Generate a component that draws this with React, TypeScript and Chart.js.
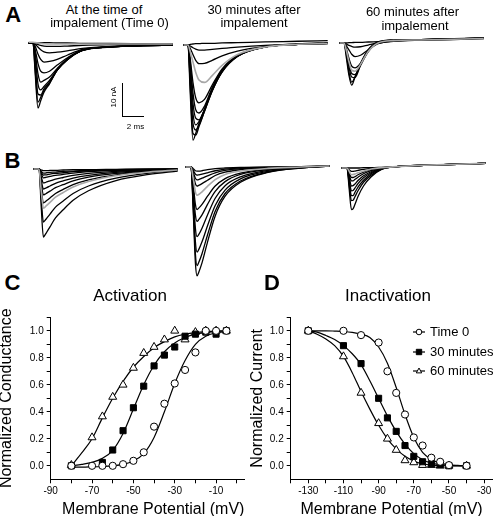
import React, { useEffect, useRef } from 'react';
import { Chart, registerables } from 'chart.js';

Chart.register(...registerables);

const FONT = '"Liberation Sans", Arial, Helvetica, sans-serif';
Chart.defaults.font.family = FONT;
Chart.defaults.color = '#000';

// ---------- Panels A / B : current traces (time in ms, current in nA) ----------
const T_A = [-0.4, 0, 0.2, 0.45, 0.7, 1.0, 1.5, 2.2, 3.1, 4.5, 7, 10, 12.7];
const T_B = [-0.5, 0, 0.2, 0.4, 0.55, 0.7, 1.0, 1.5, 2.2, 3.1, 4.5, 7, 10, 12.6];

const A1_BLACK = [
  [0, 0, -9, -19.1, -17, -14.5, -12, -8, -5, -2.2, -1.2, -0.8, -0.6],
  [0, 0, -8, -17.4, -16, -14, -11.8, -8, -5, -2.2, -1.2, -0.8, -0.6],
  [0, 0, -6, -15, -15.3, -13.5, -11.5, -8, -5, -2.2, -1.2, -0.8, -0.6],
  [0, 0, -4, -12, -13.8, -12.8, -11, -7.8, -4.8, -2.2, -1.2, -0.8, -0.6],
  [0, 0, -3, -9, -11.5, -11, -10, -7.5, -4.7, -2.1, -1.2, -0.8, -0.6],
  [0, 0, -2, -6, -8.3, -8.8, -8.3, -6.5, -4.4, -2, -1.2, -0.8, -0.6],
  [0, 0, -1, -3.2, -4.8, -5.6, -5.4, -4.8, -3.6, -1.9, -1.1, -0.8, -0.6],
  [0, 0, -0.4, -1.2, -2, -2.6, -2.9, -2.7, -2.3, -1.6, -1, -0.7, -0.5],
  [0, 0, -0.2, -0.5, -0.7, -0.9, -1, -1, -0.9, -0.7, -0.5, -0.4, -0.3],
  [0, 0, 0, 0, 0.1, 0.1, 0.1, 0, 0, -0.1, -0.1, -0.2, -0.3],
];
const A1_GRAY = [[0.2, 0.2, 0.1, 0, -0.1, -0.2, -0.3, -0.3, -0.3, -0.3, -0.3, -0.3, -0.3]];

const A2_BLACK = [
  [0, 0, -14, -28, -26, -23, -19, -13, -7.5, -3.2, -0.5, 0.3, 0.6],
  [0, 0, -12, -26, -26.5, -24, -19.5, -13.5, -7.8, -3.3, -0.5, 0.3, 0.6],
  [0, 0, -10, -23, -25, -23.5, -19.5, -13.5, -8, -3.4, -0.6, 0.2, 0.5],
  [0, 0, -8, -20, -23.5, -22.5, -19, -13.3, -7.8, -3.3, -0.6, 0.2, 0.5],
  [0, 0, -6, -17, -21.5, -22, -19, -13, -7.5, -3.2, -0.6, 0.2, 0.5],
  [0, 0, -5, -14, -19, -20, -18, -12.5, -7.3, -3.1, -0.6, 0.2, 0.5],
  [0, 0, -4, -11, -15.5, -17, -16, -11.8, -7, -3, -0.6, 0.2, 0.5],
  [0, 0, -1, -2.8, -4.5, -5.5, -5.4, -4.5, -3.2, -1.8, -0.5, 0.2, 0.4],
  [0, 0, -0.3, -0.8, -1.2, -1.5, -1.5, -1.3, -1, -0.6, -0.1, 0.2, 0.4],
  [0, 0, 0.2, 0.3, 0.4, 0.4, 0.5, 0.5, 0.6, 0.7, 0.9, 1.1, 1.3],
];
const A2_GRAY = [[0, 0, -2, -5, -8, -10.3, -11, -9, -6, -2.8, -0.6, 0.2, 0.4]];

const A3_BLACK = [
  [0, 0, -4, -9.5, -12.4, -10, -6, -2, 0.3, 0.9, 1.0, 1.3, 1.5],
  [0, 0, -3, -8.5, -11.5, -10, -6.2, -2.1, 0.2, 0.8, 1.0, 1.2, 1.4],
  [0, 0, -2.5, -7, -10, -10.2, -6.5, -2.3, 0.1, 0.8, 1.0, 1.2, 1.4],
  [0, 0, -2, -6, -9, -9.3, -6.6, -2.5, 0, 0.7, 1.0, 1.2, 1.4],
  [0, 0, -1.5, -4.5, -6.8, -7.3, -6, -2.5, 0, 0.7, 1.0, 1.2, 1.4],
  [0, 0, -0.8, -2, -3.3, -4, -3.6, -2, -0.2, 0.6, 0.9, 1.1, 1.3],
  [0, 0, -0.3, -0.7, -1, -1.2, -1.1, -0.6, 0, 0.5, 0.8, 1.0, 1.3],
  [0, 0, 0, 0.1, 0.1, 0.2, 0.2, 0.3, 0.4, 0.6, 0.9, 1.1, 1.4],
];
const A3_GRAY = [[0, 0, -2, -5.5, -8, -8.3, -6.3, -2.5, 0, 0.7, 0.9, 1.1, 1.3]];

const B1_BLACK = [
  [0, 0, -11, -20, -19.4, -18.6, -17, -14.4, -12, -9.2, -6.4, -3.4, -1.6, -0.6],
  [0, 0, -8.6, -15.6, -15.1, -14.5, -13.3, -11.2, -9.4, -7.2, -5, -2.7, -1.2, -0.5],
  [0, 0, -5.5, -10, -9.7, -9.3, -8.5, -7.2, -6, -4.6, -3.2, -1.7, -0.8, -0.3],
  [0, 0, -4.2, -7.6, -7.4, -7.1, -6.5, -5.5, -4.6, -3.5, -2.4, -1.3, -0.6, -0.2],
  [0, 0, -3.2, -5.9, -5.7, -5.5, -5, -4.2, -3.5, -2.7, -1.9, -1, -0.5, -0.2],
  [0, 0, -2.3, -4.1, -4, -3.8, -3.5, -3, -2.5, -1.9, -1.3, -0.7, -0.3, -0.1],
  [0, 0, -1.4, -2.6, -2.5, -2.4, -2.2, -1.9, -1.6, -1.2, -0.8, -0.4, -0.2, -0.1],
  [0, 0, -1, -1.8, -1.7, -1.7, -1.5, -1.3, -1.1, -0.8, -0.6, -0.3, -0.1, 0],
  [0, 0, -0.7, -1.2, -1.2, -1.1, -1, -0.9, -0.7, -0.6, -0.4, -0.2, -0.1, 0],
  [0, 0, -0.3, -0.5, -0.5, -0.5, -0.4, -0.4, -0.3, -0.2, -0.2, -0.1, 0, 0],
];
const B1_GRAY = [[0, 0, -6.3, -11.5, -11.2, -10.7, -9.8, -8.3, -6.9, -5.3, -3.7, -2, -0.9, -0.3]];

const B2_BLACK = [
  [0, 0, -12.8, -28.2, -32, -31, -28.2, -22.1, -14.4, -8.6, -4.5, -1.6, -0.3, 0.3],
  [0, 0, -11.6, -25.5, -29, -28.1, -25.5, -20, -13, -7.8, -4.1, -1.5, -0.3, 0.3],
  [0, 0, -10, -22, -25, -24.3, -22, -17.3, -11.3, -6.8, -3.5, -1.3, -0.2, 0.3],
  [0, 0, -8.2, -18, -20.5, -19.9, -18, -14.1, -9.2, -5.5, -2.9, -1, -0.2, 0.3],
  [0, 0, -6.4, -14.1, -16, -15.5, -14.1, -11, -7.2, -4.3, -2.2, -0.8, -0.1, 0.3],
  [0, 0, -5, -11, -12.5, -12.1, -11, -8.6, -5.6, -3.4, -1.8, -0.6, -0.1, 0.3],
  [0, 0, -2.2, -4.9, -5.6, -5.4, -4.9, -3.9, -2.5, -1.5, -0.8, -0.3, 0, 0.3],
  [0, 0, -1.5, -3.3, -3.8, -3.7, -3.3, -2.6, -1.7, -1, -0.5, -0.2, 0, 0.3],
  [0, 0, -1, -2.1, -2.4, -2.3, -2.1, -1.7, -1.1, -0.6, -0.3, -0.1, 0.1, 0.3],
  [0, 0, -0.5, -1.1, -1.2, -1.2, -1.1, -0.8, -0.5, -0.3, -0.1, 0, 0.1, 0.3],
];
const B2_GRAY = [[0, 0, -3.3, -7.3, -8.3, -8.1, -7.3, -5.7, -3.7, -2.2, -1.2, -0.4, 0, 0.3]];

const B3_BLACK = [
  [0, 0, -6.2, -12.2, -12, -10.9, -8.4, -5.3, -2.6, -0.5, 0.4, 0.8, 1.1, 1.4],
  [0, 0, -4.9, -9.6, -9.5, -8.6, -6.7, -4.2, -2.1, -0.4, 0.4, 0.8, 1.1, 1.4],
  [0, 0, -4.1, -8.1, -8.1, -7.3, -5.6, -3.6, -1.7, -0.3, 0.4, 0.8, 1.1, 1.4],
  [0, 0, -3.4, -6.7, -6.6, -6, -4.6, -2.9, -1.4, -0.2, 0.4, 0.8, 1.1, 1.4],
  [0, 0, -2.7, -5.3, -5.2, -4.8, -3.7, -2.3, -1.1, -0.1, 0.4, 0.8, 1.1, 1.4],
  [0, 0, -1.9, -3.8, -3.8, -3.4, -2.7, -1.7, -0.8, 0, 0.4, 0.8, 1.1, 1.4],
  [0, 0, -1.4, -2.8, -2.8, -2.6, -2, -1.2, -0.5, 0, 0.4, 0.8, 1.1, 1.4],
  [0, 0, -0.5, -1, -1, -0.9, -0.7, -0.4, -0.1, 0.1, 0.4, 0.8, 1.1, 1.4],
  [0, 0, 0, 0, 0, 0, 0, 0.1, 0.1, 0.2, 0.4, 0.8, 1.1, 1.4],
];
const B3_GRAY = [[0, 0, -1, -2, -1.9, -1.8, -1.4, -0.9, -0.3, 0.1, 0.4, 0.8, 1.1, 1.4]];

// scale bar values
const SCALE_BAR_NA = 10;
const SCALE_BAR_MS = 2;

// ---------- Panel C : activation ----------
const C_V_T0 = [-80, -70, -65, -60, -55, -50, -45, -40, -35, -30, -25, -20, -15, -10, -5];
const C_G_T0 = [0, 0, 0, 0, 0.012, 0.037, 0.1, 0.29, 0.46, 0.61, 0.71, 0.84, 1.0, 1.0, 1.0];
const C_V_30 = [-80, -65, -60, -55, -50, -45, -40, -35, -30, -25, -20, -15, -10, -5];
const C_G_30 = [0, 0.025, 0.117, 0.26, 0.43, 0.59, 0.74, 0.82, 0.88, 0.96, 0.975, 0.99, 0.975, 1.0];
const C_V_60 = [-80, -70, -65, -60, -55, -50, -45, -40, -35, -30, -25, -20, -15, -10, -5];
const C_G_60 = [0.005, 0.21, 0.365, 0.51, 0.6, 0.725, 0.835, 0.88, 0.935, 1.0, 0.935, 0.99, 1.0, 1.0, 1.0];

const C_FIT_V = [-80, -75, -70, -65, -60, -55, -50, -45, -40, -35, -30, -25, -20, -15, -10, -5];
const C_FIT_T0 = [-0.01, -0.01, -0.008, -0.005, 0, 0.01, 0.035, 0.09, 0.21, 0.4, 0.61, 0.78, 0.9, 0.96, 0.985, 0.995];
const C_FIT_30 = [0, 0.01, 0.025, 0.055, 0.115, 0.24, 0.42, 0.6, 0.745, 0.845, 0.91, 0.95, 0.975, 0.988, 0.995, 1.0];
const C_FIT_60 = [0, 0.095, 0.2, 0.355, 0.5, 0.625, 0.73, 0.81, 0.875, 0.92, 0.955, 0.975, 0.987, 0.994, 0.998, 1.0];

const C_X_TICKS = [-90, -80, -70, -60, -50, -40, -30, -20, -10, 0];

// ---------- Panel D : inactivation ----------
const D_V = [-130, -110, -100, -90, -85, -80, -75, -70, -65, -60, -55, -50, -40];
const D_I_T0 = [1.0, 1.0, 0.968, 0.913, 0.7, 0.54, 0.38, 0.21, 0.15, 0.06, 0.03, 0.005, 0.0];
const D_I_30 = [1.0, 0.89, 0.757, 0.5, 0.355, 0.255, 0.15, 0.07, 0.03, 0.017, 0.01, 0.0, 0.0];
const D_I_60 = [1.0, 0.81, 0.54, 0.315, 0.2, 0.117, 0.04, 0.025, 0.005, 0.005, 0.0, 0.0, 0.0];

const D_FIT_V = [-130, -125, -120, -115, -110, -105, -100, -95, -90, -85, -80, -75, -70, -65, -60, -55, -50, -45, -40];
const D_FIT_T0 = [1.0, 1.0, 1.0, 0.998, 0.995, 0.988, 0.975, 0.95, 0.88, 0.76, 0.58, 0.38, 0.21, 0.1, 0.047, 0.02, 0.008, 0.003, 0.0];
const D_FIT_30 = [1.0, 0.99, 0.965, 0.935, 0.89, 0.83, 0.75, 0.63, 0.5, 0.37, 0.255, 0.16, 0.09, 0.045, 0.02, 0.008, 0.003, 0.001, 0.0];
const D_FIT_60 = [1.0, 0.975, 0.94, 0.89, 0.81, 0.69, 0.55, 0.42, 0.3, 0.2, 0.125, 0.07, 0.035, 0.015, 0.005, 0.002, 0.0, 0.0, 0.0];

const D_X_TICKS = [-140, -130, -120, -110, -100, -90, -80, -70, -60, -50, -40, -30];
const Y_TICKS = [0, 0.1, 0.2, 0.3, 0.4, 0.5, 0.6, 0.7, 0.8, 0.9, 1.0, 1.1];

const SERIES_LABELS = ['Time 0', '30 minutes', '60 minutes'];

// ---------- layout constants ----------
const PX_MS = 11;
const PX_NA = 3.4;
const GRAY = '#a8a8a8';

type TraceDef = {
  t: number[];
  black: number[][];
  gray: number[][];
  box: [number, number, number, number];
  x0: number;
  y0: number;
};

const TRACE_PANELS: TraceDef[] = [
  { t: T_A, black: A1_BLACK, gray: A1_GRAY, box: [22, 30, 160, 90], x0: 33, y0: 43 },
  { t: T_A, black: A2_BLACK, gray: A2_GRAY, box: [176, 28, 160, 120], x0: 188, y0: 45 },
  { t: T_A, black: A3_BLACK, gray: A3_GRAY, box: [334, 28, 162, 72], x0: 344, y0: 43 },
  { t: T_B, black: B1_BLACK, gray: B1_GRAY, box: [26, 155, 160, 95], x0: 39, y0: 169 },
  { t: T_B, black: B2_BLACK, gray: B2_GRAY, box: [178, 152, 160, 134], x0: 191, y0: 167 },
  { t: T_B, black: B3_BLACK, gray: B3_GRAY, box: [334, 150, 162, 72], x0: 347, y0: 168 },
];

function TracePanel({ p }: { p: TraceDef }) {
  const ref = useRef<HTMLCanvasElement>(null);
  const [left, top, w, h] = p.box;
  useEffect(() => {
    const xmin = -(p.x0 - left) / PX_MS;
    const xmax = (left + w - p.x0) / PX_MS;
    const ymax = (p.y0 - top) / PX_NA;
    const ymin = -(top + h - p.y0) / PX_NA;
    const mk = (vals: number[], color: string, width: number) => ({
      data: vals.map((v, i) => ({ x: p.t[i], y: v })),
      showLine: true,
      borderColor: color,
      borderWidth: width,
      pointRadius: 0,
      cubicInterpolationMode: 'monotone' as const,
      fill: false,
      clip: false as any,
    });
    const datasets = [
      ...p.gray.map((g) => mk(g, GRAY, 1.6)),
      ...p.black.map((b) => mk(b, '#000', 1.3)),
    ];
    const chart = new Chart(ref.current!, {
      type: 'scatter',
      data: { datasets },
      options: {
        animation: false,
        responsive: false,
        events: [],
        layout: { padding: 0 },
        plugins: { legend: { display: false }, tooltip: { enabled: false } },
        scales: {
          x: { type: 'linear', display: false, min: xmin, max: xmax },
          y: { type: 'linear', display: false, min: ymin, max: ymax },
        },
      },
    });
    return () => chart.destroy();
  }, []);
  return (
    <canvas
      ref={ref}
      width={w}
      height={h}
      style={{ position: 'absolute', left, top, width: w, height: h }}
    />
  );
}

type IVDef = {
  box: [number, number, number, number];
  yWidth: number;
  xHeight: number;
  padTop: number;
  padRight: number;
  xmin: number;
  xmax: number;
  xTicks: number[];
  xLabelBase: number;
  xTitleAlign: 'center' | 'end';
  yTitle: string;
  points: { v: number[]; y: number[] }[];
  fits: { v: number[]; y: number[] }[];
  legend: boolean;
};

const MARKERS = [
  { style: 'circle', r: 3.6, fill: '#fff' },
  { style: 'rect', r: 4.3, fill: '#000' },
  { style: 'triangle', r: 4.6, fill: '#fff' },
];

const LEGEND_POS = { lineX0: 163, lineX1: 175, textX: 180, ys: [27, 47, 66] };

function drawMarker(ctx: CanvasRenderingContext2D, kind: number, x: number, y: number, s: number) {
  ctx.beginPath();
  if (kind === 0) {
    ctx.arc(x, y, s, 0, Math.PI * 2);
  } else if (kind === 1) {
    ctx.rect(x - s, y - s, 2 * s, 2 * s);
  } else {
    ctx.moveTo(x, y - s * 1.1);
    ctx.lineTo(x + s, y + s * 0.7);
    ctx.lineTo(x - s, y + s * 0.7);
    ctx.closePath();
  }
  ctx.fillStyle = MARKERS[kind].fill;
  ctx.fill();
  ctx.lineWidth = 1;
  ctx.strokeStyle = '#000';
  ctx.stroke();
}

const legendPlugin = {
  id: 'dLegend',
  afterDraw(chart: any) {
    if (!chart.options.plugins.dLegend?.show) return;
    const ctx: CanvasRenderingContext2D = chart.ctx;
    ctx.save();
    SERIES_LABELS.forEach((label, i) => {
      const y = LEGEND_POS.ys[i];
      ctx.beginPath();
      ctx.moveTo(LEGEND_POS.lineX0, y);
      ctx.lineTo(LEGEND_POS.lineX1, y);
      ctx.lineWidth = 1.2;
      ctx.strokeStyle = '#000';
      ctx.stroke();
      const cx = (LEGEND_POS.lineX0 + LEGEND_POS.lineX1) / 2;
      drawMarker(ctx, i, cx, y, i === 0 ? 2.8 : 2.7);
      ctx.fillStyle = '#000';
      ctx.font = '13px ' + FONT;
      ctx.textBaseline = 'middle';
      ctx.textAlign = 'left';
      ctx.fillText(label, LEGEND_POS.textX, y + 0.5);
    });
    ctx.restore();
  },
};

function IVChart({ d }: { d: IVDef }) {
  const ref = useRef<HTMLCanvasElement>(null);
  const [left, top, w, h] = d.box;
  useEffect(() => {
    const datasets: any[] = [];
    d.points.forEach((s, i) => {
      const m = MARKERS[i];
      datasets.push({
        data: s.v.map((v, k) => ({ x: v, y: s.y[k] })),
        showLine: false,
        pointStyle: m.style,
        pointRadius: m.r,
        pointBackgroundColor: m.fill,
        pointBorderColor: '#000',
        pointBorderWidth: 1,
        order: 0,
        clip: false,
      });
    });
    d.fits.forEach((s) => {
      datasets.push({
        data: s.v.map((v, k) => ({ x: v, y: s.y[k] })),
        showLine: true,
        borderColor: '#000',
        borderWidth: 1.2,
        pointRadius: 0,
        cubicInterpolationMode: 'monotone',
        order: 1,
        clip: false,
      });
    });
    const yLabel = (v: number) => {
      const n = Math.round(v * 10);
      return n >= 0 && n <= 10 && n % 2 === 0 ? (n / 10).toFixed(1) : '';
    };
    const chart = new Chart(ref.current!, {
      type: 'scatter',
      data: { datasets },
      plugins: [legendPlugin],
      options: {
        animation: false,
        responsive: false,
        events: [],
        layout: { padding: { top: d.padTop, right: d.padRight, left: 0, bottom: 0 } },
        plugins: {
          legend: { display: false },
          tooltip: { enabled: false },
          dLegend: { show: d.legend },
        } as any,
        scales: {
          x: {
            type: 'linear',
            min: d.xmin,
            max: d.xmax,
            afterBuildTicks: (s: any) => {
              s.ticks = d.xTicks.map((v) => ({ value: v }));
            },
            afterFit: (s: any) => {
              s.height = d.xHeight;
            },
            grid: { display: true, drawOnChartArea: false, drawTicks: true, tickLength: 4, color: '#000', lineWidth: 1 },
            border: { display: true, color: '#000', width: 1 },
            ticks: {
              autoSkip: false,
              maxRotation: 0,
              padding: 2,
              color: '#000',
              font: { family: FONT, size: 10 },
              callback: (v: any) => (((Number(v) - d.xLabelBase) % 20 === 0 && Number(v) <= d.xTicks[d.xTicks.length - 1] && Number(v) !== 0) ? String(v) : ''),
            },
            title: {
              display: true,
              text: 'Membrane Potential (mV)',
              align: d.xTitleAlign,
              color: '#000',
              font: { family: FONT, size: 16, lineHeight: 0.75 },
              padding: 0,
            },
          },
          y: {
            type: 'linear',
            min: -0.1,
            max: 1.1,
            afterBuildTicks: (s: any) => {
              s.ticks = Y_TICKS.map((v) => ({ value: v }));
            },
            afterFit: (s: any) => {
              s.width = d.yWidth;
            },
            grid: { display: true, drawOnChartArea: false, drawTicks: true, tickLength: 4, color: '#000', lineWidth: 1 },
            border: { display: true, color: '#000', width: 1 },
            ticks: {
              autoSkip: false,
              padding: 3,
              color: '#000',
              font: { family: FONT, size: 10 },
              callback: (v: any) => yLabel(Number(v)),
            },
            title: {
              display: true,
              text: d.yTitle,
              color: '#000',
              font: { family: FONT, size: 16, lineHeight: 1 },
              padding: 0,
            },
          },
        },
      },
    });
    return () => chart.destroy();
  }, []);
  return (
    <canvas
      ref={ref}
      width={w}
      height={h}
      style={{ position: 'absolute', left, top, width: w, height: h }}
    />
  );
}

const C_DEF: IVDef = {
  box: [-1, 305, 251, 211],
  yWidth: 51.7,
  xHeight: 36.7,
  padTop: 12.3,
  padRight: 2,
  xmin: -90,
  xmax: 3.7,
  xTicks: C_X_TICKS,
  xLabelBase: -90,
  xTitleAlign: 'end',
  yTitle: 'Normalized Conductance',
  points: [
    { v: C_V_T0, y: C_G_T0 },
    { v: C_V_30, y: C_G_30 },
    { v: C_V_60, y: C_G_60 },
  ],
  fits: [
    { v: C_FIT_V, y: C_FIT_T0 },
    { v: C_FIT_V, y: C_FIT_30 },
    { v: C_FIT_V, y: C_FIT_60 },
  ],
  legend: false,
};

const D_DEF: IVDef = {
  box: [250, 305, 248, 211],
  yWidth: 40.7,
  xHeight: 36.7,
  padTop: 12.3,
  padRight: 0,
  xmin: -140,
  xmax: -25.3,
  xTicks: D_X_TICKS,
  xLabelBase: -130,
  xTitleAlign: 'center',
  yTitle: 'Normalized Current',
  points: [
    { v: D_V, y: D_I_T0 },
    { v: D_V, y: D_I_30 },
    { v: D_V, y: D_I_60 },
  ],
  fits: [
    { v: D_FIT_V, y: D_FIT_T0 },
    { v: D_FIT_V, y: D_FIT_30 },
    { v: D_FIT_V, y: D_FIT_60 },
  ],
  legend: true,
};

function Label({ x, y, size, text, bold, rotate }: { x: number; y: number; size: number; text: string; bold?: boolean; rotate?: boolean }) {
  return (
    <div
      style={{
        position: 'absolute',
        left: x,
        top: y,
        transform: `translate(-50%, -50%)${rotate ? ' rotate(-90deg)' : ''}`,
        fontFamily: FONT,
        fontSize: size,
        fontWeight: bold ? 'bold' : 'normal',
        lineHeight: 1,
        whiteSpace: 'nowrap',
        color: '#000',
      }}
    >
      {text}
    </div>
  );
}

export default function App() {
  const barX = 122.5;
  const barBottom = 116.7;
  const barH = SCALE_BAR_NA * PX_NA;
  const barW = SCALE_BAR_MS * PX_MS;
  return (
    <div style={{ position: 'absolute', left: 0, top: 0, width: 498, height: 516, overflow: 'hidden', background: '#fff' }}>
      {TRACE_PANELS.map((p, i) => (
        <TracePanel key={i} p={p} />
      ))}
      <IVChart d={C_DEF} />
      <IVChart d={D_DEF} />

      {/* scale bar */}
      <div style={{ position: 'absolute', left: barX - 0.75, top: barBottom - barH, width: 0, height: barH, borderLeft: '1.6px solid #000' }} />
      <div style={{ position: 'absolute', left: barX - 0.75, top: barBottom - 0.8, width: barW, height: 0, borderTop: '1.6px solid #000' }} />
      <Label x={114} y={97} size={8} text={`${SCALE_BAR_NA} nA`} rotate />
      <Label x={135.5} y={127} size={8} text={`${SCALE_BAR_MS} ms`} />

      {/* panel letters */}
      <Label x={13.3} y={15} size={22} text="A" bold />
      <Label x={12.5} y={161} size={22} text="B" bold />
      <Label x={12.5} y={283} size={22} text="C" bold />
      <Label x={272} y={283} size={22} text="D" bold />

      {/* column titles */}
      <Label x={104} y={8.5} size={13} text="At the time of" />
      <Label x={109.5} y={22} size={13} text="impalement (Time 0)" />
      <Label x={254} y={8.5} size={13} text="30 minutes after" />
      <Label x={254} y={22} size={13} text="impalement" />
      <Label x={412.5} y={11} size={13} text="60 minutes after" />
      <Label x={415} y={25} size={13} text="impalement" />

      {/* panel titles */}
      <Label x={130} y={295} size={17} text="Activation" />
      <Label x={388} y={295} size={17} text="Inactivation" />
    </div>
  );
}
